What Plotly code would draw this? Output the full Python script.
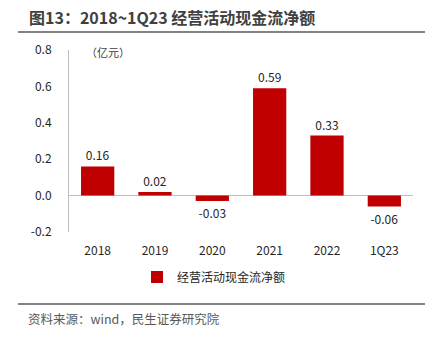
import plotly.graph_objects as go

categories = ["2018", "2019", "2020", "2021", "2022", "1Q23"]
values = [0.16, 0.02, -0.03, 0.59, 0.33, -0.06]
series_name = "经营活动现金流净额"
tick_vals = [-0.2, 0.0, 0.2, 0.4, 0.6, 0.8]
tick_text = ["-0.2", "0.0", "0.2", "0.4", "0.6", "0.8"]

W, H = 432, 339
L, R, T, B = 69, 19, 50, 107
pw, ph = W - L - R, H - T - B

def px(x):
    return (x - L) / pw

def py(y):
    return (H - B - y) / ph

font = "Noto Sans CJK SC"

fig = go.Figure()
fig.add_trace(go.Bar(
    x=categories, y=values, name=series_name,
    marker=dict(color="#C00000", line=dict(width=0)),
    width=0.58,
    text=[f"{v:.2f}" for v in values],
    textposition="outside",
    textfont=dict(size=12, color="#262626", family=font),
    cliponaxis=False,
))

fig.update_layout(
    width=W, height=H,
    margin=dict(l=L, r=R, t=T, b=B),
    paper_bgcolor="white", plot_bgcolor="white",
    font=dict(family=font, color="#262626"),
    showlegend=True,
    legend=dict(orientation="h", x=px(214), xanchor="center", y=py(277), yanchor="middle",
                font=dict(size=12, color="#262626", family=font),
                itemwidth=30, tracegroupgap=0),
    xaxis=dict(showgrid=False, showline=False, ticks="", zeroline=False,
               ticklabelstandoff=10,
               tickfont=dict(size=12, color="#262626")),
    yaxis=dict(range=[-0.2, 0.8], tickvals=tick_vals, ticktext=tick_text,
               showgrid=False, showline=True, linecolor="#BFBFBF", linewidth=1,
               zeroline=True, zerolinecolor="#BFBFBF", zerolinewidth=1,
               ticks="", ticklen=0, ticklabelstandoff=14,
               tickfont=dict(size=12, color="#262626")),
    bargap=0.42,
)

fig.add_annotation(xref="paper", yref="paper", x=px(27), y=py(17), xanchor="left", yanchor="middle",
                   text="<b>图13：2018~1Q23 经营活动现金流净额</b>", showarrow=False,
                   font=dict(size=16, color="#404040", family=font))
fig.add_shape(type="line", xref="paper", yref="paper", x0=px(18), x1=px(425), y0=py(32), y1=py(32),
              line=dict(color="#595959", width=1.5))
fig.add_annotation(xref="paper", yref="paper", x=px(84), y=py(52), xanchor="left", yanchor="middle",
                   text="（亿元）", showarrow=False,
                   font=dict(size=11, color="#404040", family=font))
fig.add_shape(type="line", xref="paper", yref="paper", x0=px(18), x1=px(425), y0=py(304), y1=py(304),
              line=dict(color="#595959", width=1.5))
fig.add_annotation(xref="paper", yref="paper", x=px(26), y=py(318), xanchor="left", yanchor="middle",
                   text="资料来源：wind，民生证券研究院", showarrow=False,
                   font=dict(size=12.5, color="#595959", family=font))

fig.write_html("out.html")
